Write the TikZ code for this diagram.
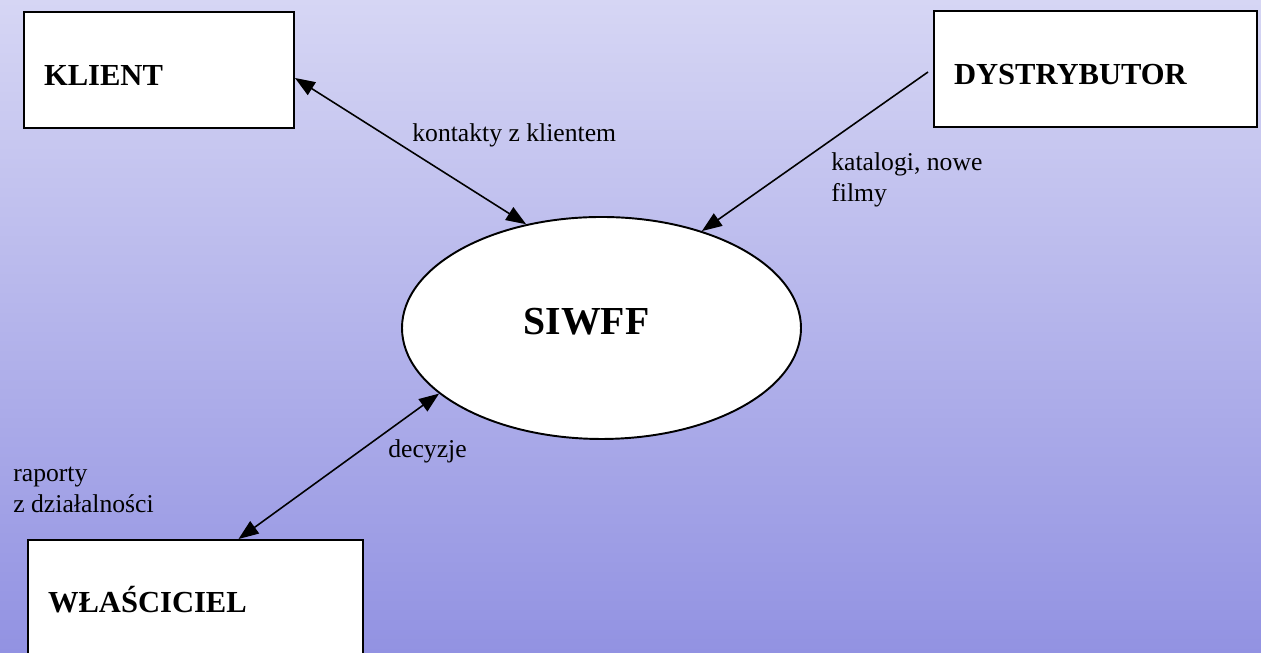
\documentclass[tikz,border=0pt]{standalone}
\usepackage{fontspec}
\setmainfont{Liberation Serif}
\usetikzlibrary{shapes, arrows.meta, positioning, calc}

\definecolor{bgtop}{RGB}{214,214,244}
\definecolor{bgbottom}{RGB}{146,146,226}

\begin{document}
\begin{tikzpicture}[
    entity/.style={draw, line width=1.1pt, fill=white, rectangle, minimum height=2.32cm,
        inner xsep=0.4cm, align=left, text height=0.62cm, text depth=0cm,
        font=\fontsize{17.4}{20}\selectfont\bfseries},
    oneway/.style={line width=0.9pt, -{Triangle[length=0.40cm, width=0.30cm]}},
    twoway/.style={line width=0.9pt, {Triangle[length=0.40cm, width=0.30cm]}-{Triangle[length=0.40cm, width=0.30cm]}},
    flowlabel/.style={anchor=base west, inner sep=0pt, align=left,
        font=\fontsize{14.6}{18}\selectfont}
]
    % Background
    \useasboundingbox (0,0) rectangle (25.22,13.06);
    \shade[top color=bgtop, bottom color=bgbottom] (0,0) rectangle (25.22,13.06);
    \clip (0,0) rectangle (25.22,13.06);

    % System in the middle
    \node[ellipse, draw, line width=1.1pt, fill=white, minimum width=7.98cm, minimum height=4.44cm,
        font=\fontsize{22.6}{26}\selectfont\bfseries, text height=0.52cm, text depth=0.24cm]
        (siwff) at (12.03,6.50) {SIWFF\hspace*{0.6cm}};

    % Outside entities
    \node[entity, text width=4.60cm] (klient) at (3.18,11.66) {KLIENT};
    \node[entity, text width=5.66cm] (dystr) at (21.91,11.68) {DYSTRYBUTOR};
    \node[entity, text width=5.90cm, minimum height=2.30cm] (owner) at (3.91,1.11) {WŁAŚCICIEL};

    % Flows
    \draw[twoway] ($(klient.east)+(0,-0.16)$) -- (siwff.126);
    \draw[oneway] ($(dystr.west)+(-0.10,-0.06)$) -- (siwff.44);
    \draw[twoway] ($(owner.north)+(0.86,0)$) -- (siwff.202);

    % Flow labels (base = last line)
    \node[flowlabel] (lklient) at (8.24,10.22) {kontakty z klientem};
    \node[flowlabel] (ldystr) at (16.62,9.02) {katalogi, nowe\\filmy};
    \node[flowlabel] (ldecyzje) at (7.76,3.90) {decyzje};
    \node[flowlabel] (lraporty) at (0.26,2.80) {raporty\\z działalności};
\end{tikzpicture}
\end{document}
